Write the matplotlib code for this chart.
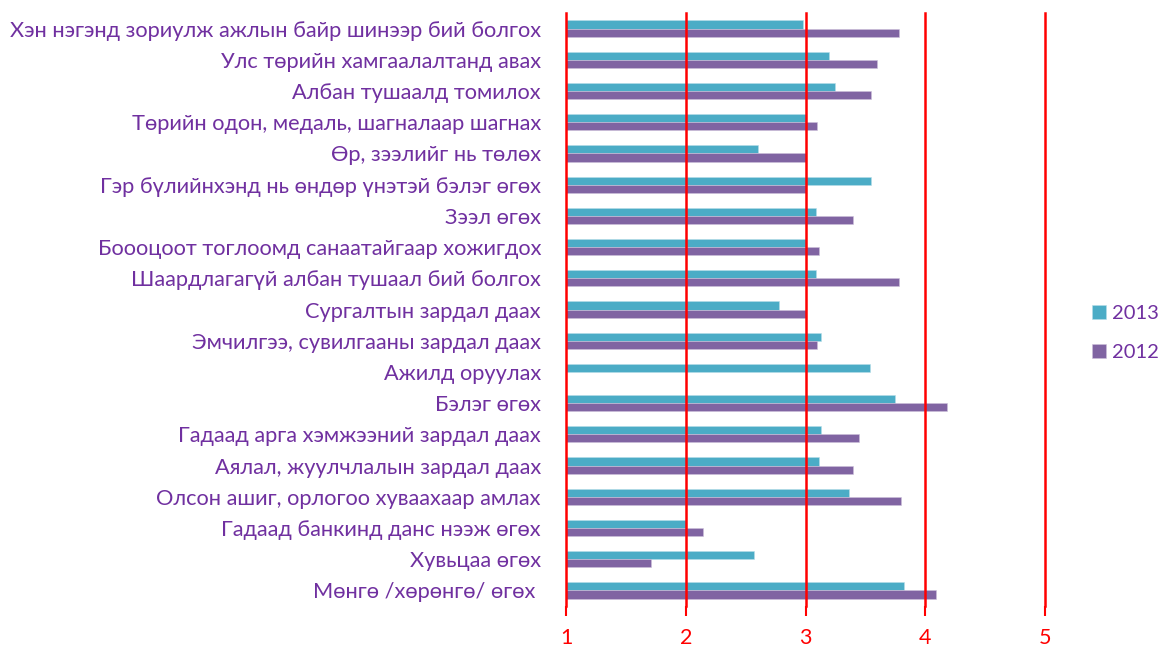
import matplotlib
matplotlib.use("Agg")
import matplotlib.pyplot as plt
import numpy as np

categories = [
    "Хэн нэгэнд зориулж ажлын байр шинээр бий болгох",
    "Улс төрийн хамгаалалтанд авах",
    "Албан тушаалд томилох",
    "Төрийн одон, медаль, шагналаар шагнах",
    "Өр, зээлийг нь төлөх",
    "Гэр бүлийнхэнд нь өндөр үнэтэй бэлэг өгөх",
    "Зээл өгөх",
    "Боооцоот тоглоомд санаатайгаар хожигдох",
    "Шаардлагагүй албан тушаал бий болгох",
    "Сургалтын зардал даах",
    "Эмчилгээ, сувилгааны зардал даах",
    "Ажилд оруулах",
    "Бэлэг өгөх",
    "Гадаад арга хэмжээний зардал даах",
    "Аялал, жуулчлалын зардал даах",
    "Олсон ашиг, орлогоо хуваахаар амлах",
    "Гадаад банкинд данс нээж өгөх",
    "Хувьцаа өгөх",
    "Мөнгө /хөрөнгө/ өгөх ",
]
values_2013 = [2.98, 3.20, 3.25, 3.00, 2.60, 3.55, 3.09, 3.00, 3.09, 2.78,
               3.13, 3.54, 3.75, 3.13, 3.11, 3.36, 2.00, 2.57, 3.82]
values_2012 = [3.78, 3.60, 3.55, 3.10, 3.00, 3.00, 3.40, 3.11, 3.78, 3.00,
               3.10, np.nan, 4.18, 3.45, 3.40, 3.80, 2.14, 1.71, 4.09]
series_names = ["2013", "2012"]
x_ticks = [1, 2, 3, 4, 5]

W, H = 1163, 651
fig = plt.figure(figsize=(W / 100, H / 100), dpi=100)
ax = fig.add_axes([566 / W, 1 - 606 / H, (1045 - 566) / W, (606 - 13) / H])

n = len(categories)
y = np.arange(n)[::-1]  # first category at top
h = 0.26
c13 = "#4BACC6"
c12 = "#8064A2"
base = 1
v13 = np.array(values_2013)
v12 = np.array(values_2012)
ax.barh(y + h / 2, v13 - base, left=base, height=h, color=c13,
        edgecolor="#B7DDE8", linewidth=0.4, label=series_names[0], zorder=3)
ax.barh(y - h / 2, np.nan_to_num(v12 - base, nan=0), left=base, height=h,
        color=c12, edgecolor="#CCC1DA", linewidth=0.4, label=series_names[1],
        zorder=3)

ax.set_xlim(1, 5)
ax.set_ylim(-0.5, n - 0.5)
ax.set_xticks(x_ticks)
ax.set_xticklabels([str(t) for t in x_ticks])
for xt in x_ticks:
    ax.axvline(xt, color="#FF0000", linewidth=1.8, zorder=4, clip_on=False)
ax.set_yticks(y)
ax.set_yticklabels(categories)
for s in ax.spines.values():
    s.set_visible(False)

font = "Lato"
ax.tick_params(axis="y", length=0, pad=18, labelsize=15.7, labelcolor="#7030A0")
ax.tick_params(axis="x", length=7, width=1.5, color="#FF0000", pad=9,
               labelsize=15.5, labelcolor="#FF0000", direction="out")
for lbl in ax.get_yticklabels() + ax.get_xticklabels():
    lbl.set_fontfamily(font)

leg = fig.legend(loc="center left", bbox_to_anchor=(1092 / W, 1 - 333 / H),
                 frameon=False, prop={"family": font, "size": 14.5},
                 borderpad=0, borderaxespad=0,
                 handlelength=0.7, handleheight=0.7, handletextpad=0.3,
                 labelspacing=1.05, labelcolor="#7030A0")

fig.savefig("out.png", dpi=100)
